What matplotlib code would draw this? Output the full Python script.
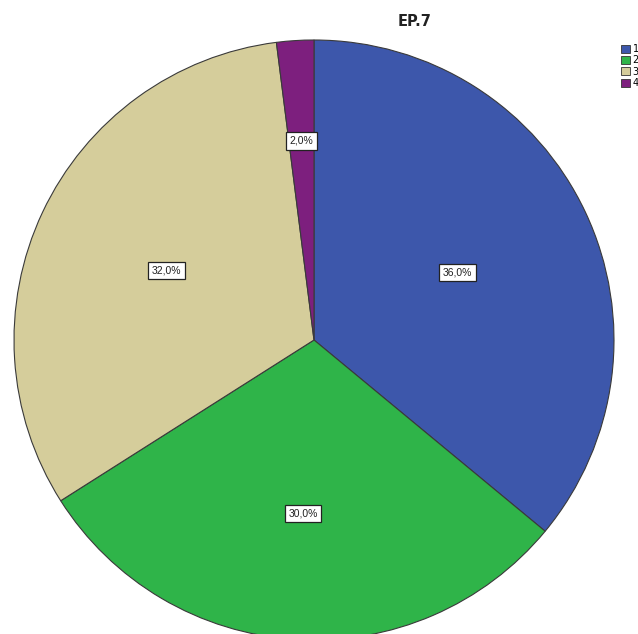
import numpy as np
import matplotlib.pyplot as plt
from matplotlib.patches import Patch

categories = ["1", "2", "3", "4"]
shares = [36.0, 30.0, 32.0, 2.0]
colors = ["#3d57ab", "#2fb449", "#d5cd9b", "#7d1f7e"]

W, H = 638, 634
fig = plt.figure(figsize=(W / 100, H / 100), dpi=100)
fig.patch.set_facecolor("white")

# pie radius 300 px, centred at (314, 340) from the top-left
cx, cy, r = 314, 340, 300
ax = fig.add_axes([(cx - r) / W, (H - cy - r) / H, 2 * r / W, 2 * r / H])

wedges, _ = ax.pie(
    shares,
    colors=colors,
    startangle=90,
    counterclock=False,
    radius=1,
    wedgeprops=dict(edgecolor="#3a3a3a", linewidth=0.8),
)
for w in wedges:
    w.set_clip_on(False)

# pie() sets its own limits, so override afterwards
ax.set_xlim(-1, 1)
ax.set_ylim(-1, 1)
ax.set_aspect("equal")
ax.axis("off")

# label distances from the centre for each slice
label_r = [0.528, 0.58, 0.544, 0.665]
for w, val, lr in zip(wedges, shares, label_r):
    ang = np.deg2rad((w.theta1 + w.theta2) / 2)
    ax.text(
        lr * np.cos(ang), lr * np.sin(ang),
        f"{val:.1f}%".replace(".", ","),
        ha="center", va="center", fontsize=7.5, family="Liberation Sans",
        color="#222222",
        bbox=dict(boxstyle="square,pad=0.35", facecolor="white",
                  edgecolor="#222222", linewidth=0.9),
    )

fig.text(415 / W, 1 - 22 / H, "EP.7", ha="center", va="center",
         fontsize=10.5, fontweight="semibold", color="#222222")

handles = [Patch(facecolor=c, edgecolor="#333333", linewidth=0.6) for c in colors]
fig.legend(
    handles, categories,
    loc="upper left", bbox_to_anchor=(617 / W, 1 - 40 / H),
    frameon=False, fontsize=7, handlelength=0.9, handleheight=0.9,
    handletextpad=0.3, labelspacing=0.15, borderaxespad=0,
)

fig.savefig("out.png", dpi=100)
